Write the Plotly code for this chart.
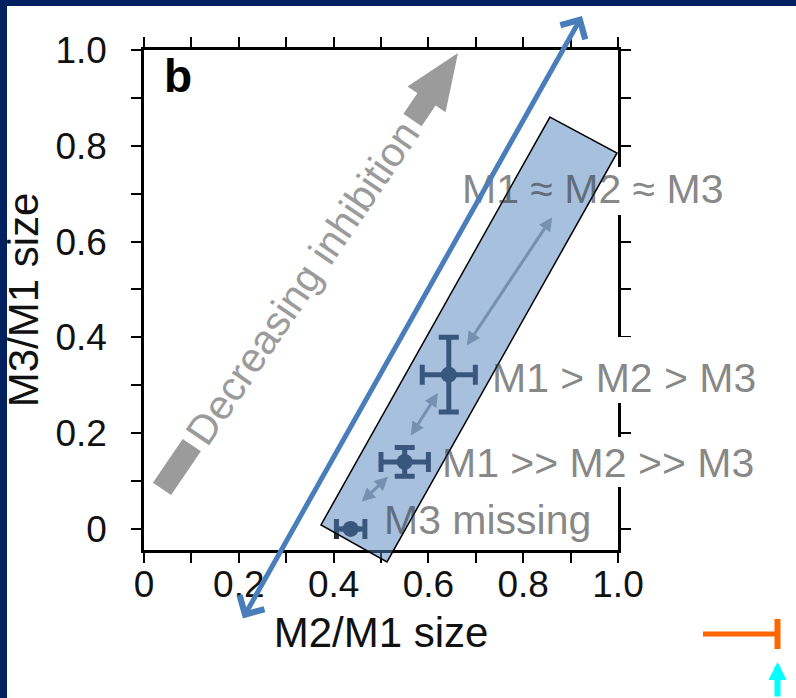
import math
import plotly.graph_objects as go

# ---------------- data ----------------
ratio_m2_m1 = [0.436, 0.550, 0.643]        # x: M2/M1 size
ratio_m3_m1 = [0.0, 0.140, 0.322]          # y: M3/M1 size
err_x = [0.030, 0.050, 0.056]
err_y = [0.0, 0.030, 0.078]

tick_vals = [0, 0.2, 0.4, 0.6, 0.8, 1.0]
tick_text = ["0", "0.2", "0.4", "0.6", "0.8", "1.0"]
minor_vals = [0.1, 0.3, 0.5, 0.7, 0.9]

regime_labels = ["M1 \u2248 M2 \u2248 M3", "M1 > M2 > M3", "M1 >> M2 >> M3", "M3 missing"]
regime_x = [0.667, 0.730, 0.624, 0.502]
regime_y = [0.710, 0.315, 0.138, 0.019]

# small double-headed arrows between regimes (data coords)
link_start = [(0.456, 0.054), (0.561, 0.192), (0.679, 0.380)]
link_end = [(0.515, 0.109), (0.620, 0.284), (0.861, 0.651)]

# highlighted band (rotated rectangle corners, data coords)
band_x = [0.8565, 0.9979, 0.5127, 0.3734]
band_y = [0.860, 0.785, -0.0689, 0.0084]

# long blue double arrow (data coords)
trend_start = (0.2068, -0.190)
trend_end = (0.924, 1.071)

# "Decreasing inhibition" arrow (data coords): tail start, tip
inhib_tail = (0.0380, 0.0835)
inhib_tip = (0.6624, 0.9937)

X_RANGE = [0.0, 1.0]
Y_RANGE = [-0.044, 1.0]

# ---------------- layout geometry ----------------
W, H = 796, 698
ML, MT, MR, MB = 144, 50, 178, 148
PW, PH = W - ML - MR, H - MT - MB


def d2px(x, y):
    px = ML + (x - X_RANGE[0]) / (X_RANGE[1] - X_RANGE[0]) * PW
    py = MT + (Y_RANGE[1] - y) / (Y_RANGE[1] - Y_RANGE[0]) * PH
    return px, py


def px2paper(px, py):
    return (px - ML) / PW, (MT + PH - py) / PH


def poly_path(points_px):
    pts = [px2paper(px, py) for px, py in points_px]
    return "M " + " L ".join(f"{a:.5f},{b:.5f}" for a, b in pts) + " Z"


FONT = "Liberation Sans, Arial, Helvetica, sans-serif"

fig = go.Figure()

fig.add_trace(go.Scatter(
    x=ratio_m2_m1, y=ratio_m3_m1, mode="markers",
    marker=dict(size=16, color="#232a3a"),
    error_x=dict(type="data", array=err_x, thickness=5, width=10, color="#232a3a"),
    error_y=dict(type="data", array=err_y, thickness=5, width=10, color="#232a3a"),
    showlegend=False, hoverinfo="skip",
))

shapes = []
annotations = []

# white gaps on the right axis (label backgrounds)
for y0, y1 in [(167, 215), (337, 403), (437, 487)]:
    a0 = px2paper(614, y1)
    a1 = px2paper(631, y0)
    shapes.append(dict(type="rect", xref="paper", yref="paper",
                       x0=a0[0], y0=a0[1], x1=a1[0], y1=a1[1],
                       fillcolor="white", line=dict(width=0), layer="above"))

# band rectangle
band_px = [d2px(x, y) for x, y in zip(band_x, band_y)]
shapes.append(dict(type="path", xref="paper", yref="paper", path=poly_path(band_px),
                   fillcolor="rgba(79,129,189,0.5)", line=dict(color="black", width=1.5),
                   layer="above"))

# decreasing-inhibition gray arrow
bx, by = d2px(*inhib_tail)
tx, ty = d2px(*inhib_tip)
L = math.hypot(tx - bx, ty - by)
ux, uy = (tx - bx) / L, (ty - by) / L
nx, ny = -uy, ux


def pt(s, t):
    return (bx + ux * s + nx * t, by + uy * s + ny * t)


tail_len, half_w = 53, 11
shapes.append(dict(type="path", xref="paper", yref="paper", layer="above",
                   path=poly_path([pt(0, -half_w), pt(tail_len, -half_w), pt(tail_len, half_w), pt(0, half_w)]),
                   fillcolor="#9b9b9b", line=dict(width=0)))
head_len, head_hw, stub = 56, 23, 25
sb = L - head_len
shapes.append(dict(type="path", xref="paper", yref="paper", layer="above",
                   path=poly_path([pt(L, 0), pt(sb, head_hw), pt(sb, half_w), pt(sb - stub, half_w),
                                   pt(sb - stub, -half_w), pt(sb, -half_w), pt(sb, -head_hw)]),
                   fillcolor="#9b9b9b", line=dict(width=0)))
mid = pt((tail_len + sb - stub) / 2, 0)
mp = px2paper(*mid)
angle = math.degrees(math.atan2(-uy, ux))
annotations.append(dict(text="Decreasing inhibition", xref="paper", yref="paper",
                        x=mp[0], y=mp[1], showarrow=False, textangle=-angle,
                        font=dict(family=FONT, size=41, color="#9b9b9b"),
                        xanchor="center", yanchor="middle"))

# navy frame (top and left)
for (x0, y0, x1, y1) in [(0, 0, 7, H), (0, 0, W, 6)]:
    a0 = px2paper(x0, y1)
    a1 = px2paper(x1, y0)
    shapes.append(dict(type="rect", xref="paper", yref="paper",
                       x0=a0[0], y0=a0[1], x1=a1[0], y1=a1[1],
                       fillcolor="#002060", line=dict(width=0), layer="above"))

# orange marker
o0 = px2paper(703, 634)
o1 = px2paper(777, 634)
shapes.append(dict(type="line", xref="paper", yref="paper", x0=o0[0], y0=o0[1], x1=o1[0], y1=o1[1],
                   line=dict(color="#FF6600", width=5), layer="above"))
o2 = px2paper(777.5, 619)
o3 = px2paper(777.5, 649)
shapes.append(dict(type="line", xref="paper", yref="paper", x0=o2[0], y0=o2[1], x1=o3[0], y1=o3[1],
                   line=dict(color="#FF6600", width=6), layer="above"))

# regime labels
for txt, x, y in zip(regime_labels, regime_x, regime_y):
    annotations.append(dict(text=txt, x=x, y=y, xref="x", yref="y", showarrow=False,
                            xanchor="left", yanchor="middle",
                            font=dict(family=FONT, size=41, color="rgba(45,45,45,0.58)")))

# small links
for (x0, y0), (x1, y1) in zip(link_start, link_end):
    annotations.append(dict(text="", x=x1, y=y1, ax=x0, ay=y0, xref="x", yref="y",
                            axref="x", ayref="y", showarrow=True, arrowside="end+start",
                            arrowhead=2, startarrowhead=2, arrowsize=0.9, startarrowsize=0.9,
                            arrowwidth=3, arrowcolor="#7590b0", standoff=0, startstandoff=0))

# long blue trend arrow
hx, hy = d2px(*trend_end)
sx, sy = d2px(*trend_start)
hp = px2paper(hx, hy)
annotations.append(dict(text="", x=hp[0], y=hp[1], xref="paper", yref="paper",
                        ax=sx - hx, ay=sy - hy, axref="pixel", ayref="pixel",
                        showarrow=True, arrowside="end+start", arrowhead=4, startarrowhead=4,
                        arrowsize=1.1, startarrowsize=1.1, arrowwidth=5, arrowcolor="#4A7EBB",
                        standoff=0, startstandoff=0))

# cyan arrow
cp = px2paper(777.5, 662)
annotations.append(dict(text="", x=cp[0], y=cp[1], xref="paper", yref="paper",
                        ax=0, ay=40, axref="pixel", ayref="pixel", showarrow=True,
                        arrowhead=2, arrowsize=0.6, arrowwidth=6, arrowcolor="#00FFFF",
                        standoff=0))

# panel letter
bp = px2paper(162, 76)
annotations.append(dict(text="<b>b</b>", x=bp[0], y=bp[1], xref="paper", yref="paper",
                        showarrow=False, xanchor="left", yanchor="middle",
                        font=dict(family=FONT, size=46, color="black")))

axis_common = dict(
    showline=True, linecolor="black", linewidth=2.5, mirror="ticks",
    ticks="outside", ticklen=10, tickwidth=2, tickcolor="black",
    tickvals=tick_vals, ticktext=tick_text,
    minor=dict(tickvals=minor_vals, ticks="outside", ticklen=10, tickwidth=2, tickcolor="black"),
    showgrid=False, zeroline=False,
    tickfont=dict(family=FONT, size=37, color="#111111"),
)

fig.update_layout(
    width=W, height=H, margin=dict(l=ML, r=MR, t=MT, b=MB),
    paper_bgcolor="white", plot_bgcolor="white",
    xaxis=dict(range=X_RANGE, title=dict(text="M2/M1 size", standoff=14,
                                         font=dict(family=FONT, size=42, color="#111111")),
               ticklabelstandoff=-10, **axis_common),
    yaxis=dict(range=Y_RANGE, title=dict(text="M3/M1 size", standoff=6,
                                         font=dict(family=FONT, size=42, color="#111111")),
               ticklabelstandoff=17, **axis_common),
    shapes=shapes, annotations=annotations, showlegend=False,
)

fig.write_html("out.html", config={"displayModeBar": False},
               post_script="document.body.style.margin='0';document.body.style.overflow='hidden';")
